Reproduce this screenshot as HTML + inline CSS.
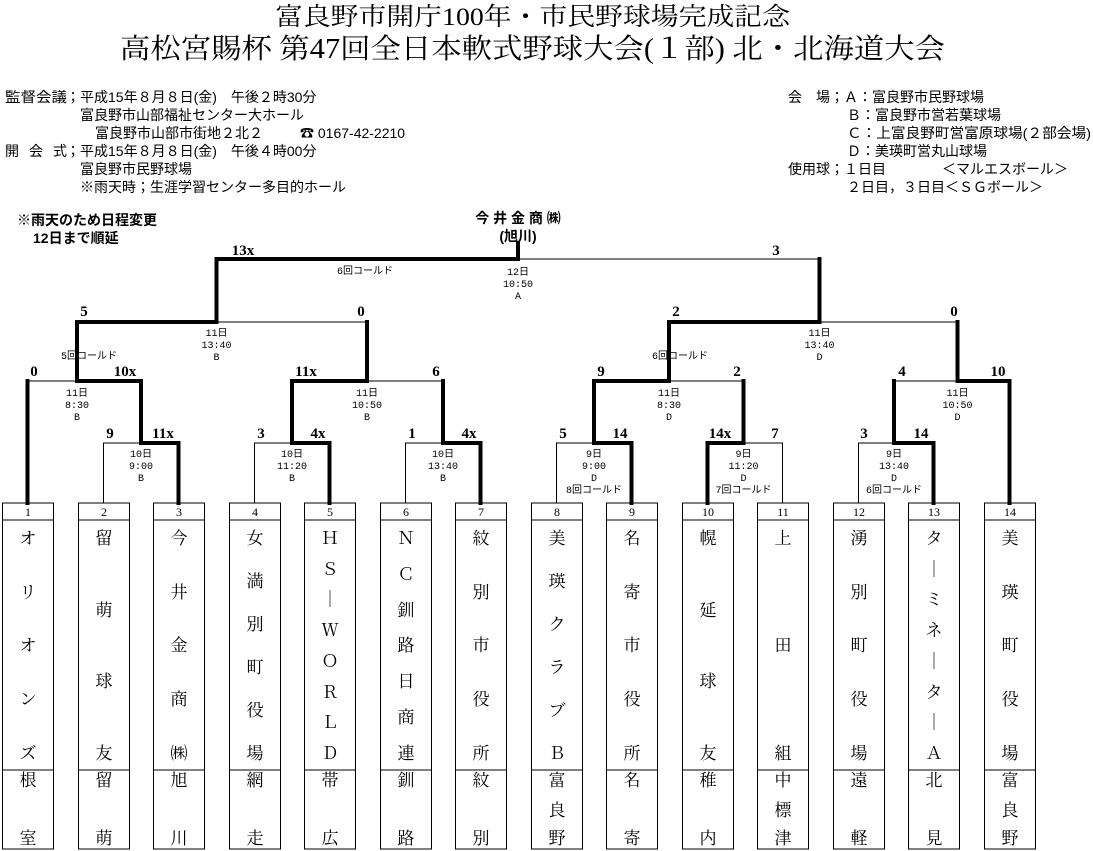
<!DOCTYPE html>
<html><head><meta charset="utf-8"><style>
html,body{margin:0;padding:0;background:#fff;}
svg{display:block}
.t{font-family:"Liberation Serif","Noto Serif CJK JP",serif;}
.g{font-family:"Liberation Sans","Noto Sans CJK JP",sans-serif;font-size:14px;}
.s{font-family:"Liberation Serif","Noto Serif CJK JP",serif;font-weight:bold;font-size:15px;text-anchor:middle;}
.i{font-family:"Liberation Mono","Noto Sans CJK JP",monospace;font-size:10px;text-anchor:middle;}
.n{font-family:"Liberation Serif","Noto Serif CJK JP",serif;font-size:17px;text-anchor:middle;}
.b{font-family:"Liberation Serif","Noto Serif CJK JP",serif;font-size:12px;text-anchor:middle;}
</style></head><body>
<svg width="1093" height="851" viewBox="0 0 1093 851" xmlns="http://www.w3.org/2000/svg">
<text class="t" x="275" y="25" font-size="25" textLength="515" lengthAdjust="spacingAndGlyphs">富良野市開庁100年・市民野球場完成記念</text>
<text class="t" x="120" y="58" font-size="28" textLength="825" lengthAdjust="spacingAndGlyphs">高松宮賜杯 第47回全日本軟式野球大会(１部) 北・北海道大会</text>

<g class="g">
<text x="5" y="102" textLength="62" lengthAdjust="spacingAndGlyphs">監督会議</text>
<text x="66" y="102">；平成15年８月８日(金)　午後２時30分</text>
<text x="80" y="120">富良野市山部福祉センター大ホール</text>
<text x="95" y="138">富良野市山部市街地２北２</text>
<text x="300" y="138">☎ 0167-42-2210</text>
<text x="5" y="156" textLength="62" lengthAdjust="spacing">開会式</text>
<text x="66" y="156">；平成15年８月８日(金)　午後４時00分</text>
<text x="80" y="174">富良野市民野球場</text>
<text x="80" y="192">※雨天時；生涯学習センター多目的ホール</text>
<text x="788" y="102">会　場；Ａ：富良野市民野球場</text>
<text x="847" y="120">Ｂ：富良野市営若葉球場</text>
<text x="847" y="138" textLength="244" lengthAdjust="spacingAndGlyphs">Ｃ：上富良野町営富原球場(２部会場)</text>
<text x="847" y="156">Ｄ：美瑛町営丸山球場</text>
<text x="788" y="174">使用球；１日目　　　　＜マルエスボール＞</text>
<text x="847" y="192">２日目，３日目＜ＳＧボール＞</text>
</g>
<text class="g" x="17" y="225" font-weight="bold" font-size="12">※雨天のため日程変更</text>
<text class="g" x="33" y="243" font-weight="bold" font-size="12">12日まで順延</text>
<text class="g" x="518" y="223" font-weight="bold" font-size="13" text-anchor="middle">今 井 金 商 ㈱</text>
<text class="g" x="518" y="241" font-weight="bold" font-size="12" text-anchor="middle">(旭川)</text>

<g stroke="#000" stroke-width="1" fill="none">
<path d="M103.5 503V443H141 M254.5 503V443H292 M405.5 503V443H443 M556.5 503V443H594 M782.5 503V443H743.5 M858.5 503V443H894"/>
<path d="M27.5 381H77 M367 381H443 M669 381H743.5 M894 381H957.5"/>
<path d="M216.5 322H367 M819.5 322H957.5 M518 259H819.5"/>
</g>
<g stroke="#000" stroke-width="4" fill="none" stroke-linecap="square">
<path d="M27.5 503V381 M1009.5 503V381"/>
<path d="M178.5 503V443H141V381 M329.5 503V443H292V381 M480.5 503V443H443V381 M631.5 503V443H594V381 M707.5 503V443H743.5V381 M933.5 503V443H894V381"/>
<path d="M77 381H141 M292 381H367 M594 381H669 M957.5 381H1009.5"/>
<path d="M77 381V322H216.5 M367 381V322 M669 381V322H819.5 M957.5 381V322"/>
<path d="M216.5 322V259H518 M819.5 322V259 M518 259V243"/>
</g>

<g class="s">
<text x="243" y="255">13x</text><text x="776" y="255">3</text>
<text x="84" y="316">5</text><text x="361" y="316">0</text><text x="676" y="316">2</text><text x="954" y="316">0</text>
<text x="34" y="376">0</text><text x="125" y="376">10x</text><text x="306" y="376">11x</text><text x="436" y="376">6</text>
<text x="601" y="376">9</text><text x="737" y="376">2</text><text x="902" y="376">4</text><text x="998" y="376">10</text>
<text x="110" y="438">9</text><text x="163" y="438">11x</text><text x="261" y="438">3</text><text x="318" y="438">4x</text>
<text x="412" y="438">1</text><text x="469" y="438">4x</text><text x="563" y="438">5</text><text x="620" y="438">14</text>
<text x="720" y="438">14x</text><text x="775" y="438">7</text><text x="864" y="438">3</text><text x="921" y="438">14</text>
</g>

<g class="i">
<text x="365" y="274">6回コールド</text>
<text x="518" y="275">12日</text><text x="518" y="287">10:50</text><text x="518" y="299">A</text>
<text x="216.5" y="336">11日</text><text x="216.5" y="348">13:40</text><text x="216.5" y="360">B</text>
<text x="819.5" y="336">11日</text><text x="819.5" y="348">13:40</text><text x="819.5" y="360">D</text>
<text x="89" y="359">5回コールド</text><text x="680" y="359">6回コールド</text>
<text x="77" y="396">11日</text><text x="77" y="408">8:30</text><text x="77" y="420">B</text>
<text x="367" y="396">11日</text><text x="367" y="408">10:50</text><text x="367" y="420">B</text>
<text x="669" y="396">11日</text><text x="669" y="408">8:30</text><text x="669" y="420">D</text>
<text x="957.5" y="396">11日</text><text x="957.5" y="408">10:50</text><text x="957.5" y="420">D</text>
<text x="141" y="457">10日</text><text x="141" y="469">9:00</text><text x="141" y="481">B</text>
<text x="292" y="457">10日</text><text x="292" y="469">11:20</text><text x="292" y="481">B</text>
<text x="443" y="457">10日</text><text x="443" y="469">13:40</text><text x="443" y="481">B</text>
<text x="594" y="457">9日</text><text x="594" y="469">9:00</text><text x="594" y="481">D</text><text x="594" y="493">8回コールド</text>
<text x="743.5" y="457">9日</text><text x="743.5" y="469">11:20</text><text x="743.5" y="481">D</text><text x="743.5" y="493">7回コールド</text>
<text x="894" y="457">9日</text><text x="894" y="469">13:40</text><text x="894" y="481">D</text><text x="894" y="493">6回コールド</text>
</g>

<g stroke="#000" stroke-width="1" fill="none">
<path d="M2.5 503h51v346h-51z M2.5 520h51 M2.5 770h51"/>
<path d="M78.5 503h51v346h-51z M78.5 520h51 M78.5 770h51"/>
<path d="M153.5 503h51v346h-51z M153.5 520h51 M153.5 770h51"/>
<path d="M229.5 503h51v346h-51z M229.5 520h51 M229.5 770h51"/>
<path d="M304.5 503h51v346h-51z M304.5 520h51 M304.5 770h51"/>
<path d="M380.5 503h51v346h-51z M380.5 520h51 M380.5 770h51"/>
<path d="M455.5 503h51v346h-51z M455.5 520h51 M455.5 770h51"/>
<path d="M531.5 503h51v346h-51z M531.5 520h51 M531.5 770h51"/>
<path d="M606.5 503h51v346h-51z M606.5 520h51 M606.5 770h51"/>
<path d="M682.5 503h51v346h-51z M682.5 520h51 M682.5 770h51"/>
<path d="M757.5 503h51v346h-51z M757.5 520h51 M757.5 770h51"/>
<path d="M833.5 503h51v346h-51z M833.5 520h51 M833.5 770h51"/>
<path d="M908.5 503h51v346h-51z M908.5 520h51 M908.5 770h51"/>
<path d="M984.5 503h51v346h-51z M984.5 520h51 M984.5 770h51"/>
</g>
<g class="b">
<text x="28" y="516">1</text><text x="104" y="516">2</text><text x="179" y="516">3</text><text x="255" y="516">4</text>
<text x="330" y="516">5</text><text x="406" y="516">6</text><text x="481" y="516">7</text><text x="557" y="516">8</text>
<text x="632" y="516">9</text><text x="708" y="516">10</text><text x="783" y="516">11</text><text x="859" y="516">12</text>
<text x="934" y="516">13</text><text x="1010" y="516">14</text>
</g>
<g class="n">
<text><tspan x="28" y="544">オ</tspan><tspan x="28" y="598">リ</tspan><tspan x="28" y="651">オ</tspan><tspan x="28" y="705">ン</tspan><tspan x="28" y="759">ズ</tspan><tspan x="28" y="786">根</tspan><tspan x="28" y="844">室</tspan></text>
<text><tspan x="104" y="544">留</tspan><tspan x="104" y="616">萌</tspan><tspan x="104" y="687">球</tspan><tspan x="104" y="759">友</tspan><tspan x="104" y="786">留</tspan><tspan x="104" y="844">萌</tspan></text>
<text><tspan x="179" y="544">今</tspan><tspan x="179" y="598">井</tspan><tspan x="179" y="651">金</tspan><tspan x="179" y="705">商</tspan><tspan x="179" y="759">㈱</tspan><tspan x="179" y="786">旭</tspan><tspan x="179" y="844">川</tspan></text>
<text><tspan x="255" y="544">女</tspan><tspan x="255" y="587">満</tspan><tspan x="255" y="630">別</tspan><tspan x="255" y="673">町</tspan><tspan x="255" y="716">役</tspan><tspan x="255" y="759">場</tspan><tspan x="255" y="786">網</tspan><tspan x="255" y="844">走</tspan></text>
<text><tspan x="330" y="544">Ｈ</tspan><tspan x="330" y="575">Ｓ</tspan><tspan x="330" y="605">｜</tspan><tspan x="330" y="636">Ｗ</tspan><tspan x="330" y="667">Ｏ</tspan><tspan x="330" y="698">Ｒ</tspan><tspan x="330" y="728">Ｌ</tspan><tspan x="330" y="759">Ｄ</tspan><tspan x="330" y="786">帯</tspan><tspan x="330" y="844">広</tspan></text>
<text><tspan x="406" y="544">Ｎ</tspan><tspan x="406" y="580">Ｃ</tspan><tspan x="406" y="616">釧</tspan><tspan x="406" y="651">路</tspan><tspan x="406" y="687">日</tspan><tspan x="406" y="723">商</tspan><tspan x="406" y="759">連</tspan><tspan x="406" y="786">釧</tspan><tspan x="406" y="844">路</tspan></text>
<text><tspan x="481" y="544">紋</tspan><tspan x="481" y="598">別</tspan><tspan x="481" y="651">市</tspan><tspan x="481" y="705">役</tspan><tspan x="481" y="759">所</tspan><tspan x="481" y="786">紋</tspan><tspan x="481" y="844">別</tspan></text>
<text><tspan x="557" y="544">美</tspan><tspan x="557" y="587">瑛</tspan><tspan x="557" y="630">ク</tspan><tspan x="557" y="673">ラ</tspan><tspan x="557" y="716">ブ</tspan><tspan x="557" y="759">Ｂ</tspan><tspan x="557" y="786">富</tspan><tspan x="557" y="816">良</tspan><tspan x="557" y="844">野</tspan></text>
<text><tspan x="632" y="544">名</tspan><tspan x="632" y="598">寄</tspan><tspan x="632" y="651">市</tspan><tspan x="632" y="705">役</tspan><tspan x="632" y="759">所</tspan><tspan x="632" y="786">名</tspan><tspan x="632" y="844">寄</tspan></text>
<text><tspan x="708" y="544">幌</tspan><tspan x="708" y="616">延</tspan><tspan x="708" y="687">球</tspan><tspan x="708" y="759">友</tspan><tspan x="708" y="786">稚</tspan><tspan x="708" y="844">内</tspan></text>
<text><tspan x="783" y="544">上</tspan><tspan x="783" y="651">田</tspan><tspan x="783" y="759">組</tspan><tspan x="783" y="786">中</tspan><tspan x="783" y="816">標</tspan><tspan x="783" y="844">津</tspan></text>
<text><tspan x="859" y="544">湧</tspan><tspan x="859" y="598">別</tspan><tspan x="859" y="651">町</tspan><tspan x="859" y="705">役</tspan><tspan x="859" y="759">場</tspan><tspan x="859" y="786">遠</tspan><tspan x="859" y="844">軽</tspan></text>
<text><tspan x="934" y="544">タ</tspan><tspan x="934" y="575">｜</tspan><tspan x="934" y="605">ミ</tspan><tspan x="934" y="636">ネ</tspan><tspan x="934" y="667">｜</tspan><tspan x="934" y="698">タ</tspan><tspan x="934" y="728">｜</tspan><tspan x="934" y="759">Ａ</tspan><tspan x="934" y="786">北</tspan><tspan x="934" y="844">見</tspan></text>
<text><tspan x="1010" y="544">美</tspan><tspan x="1010" y="598">瑛</tspan><tspan x="1010" y="651">町</tspan><tspan x="1010" y="705">役</tspan><tspan x="1010" y="759">場</tspan><tspan x="1010" y="786">富</tspan><tspan x="1010" y="816">良</tspan><tspan x="1010" y="844">野</tspan></text>
</g>
</svg>
</body></html>
